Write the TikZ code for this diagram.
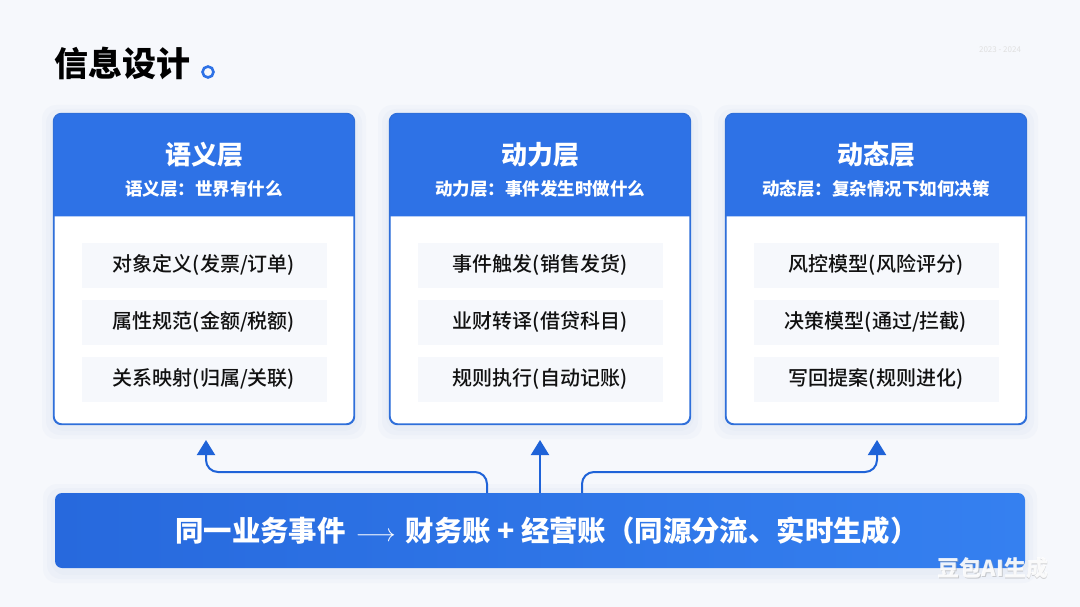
\documentclass[tikz,border=0pt]{standalone}
\usepackage{fontspec}
\setmainfont{Noto Sans CJK SC}
\newfontfamily\medfont{Noto Sans CJK SC Medium}
\usetikzlibrary{arrows.meta,positioning}
\definecolor{bgc}{HTML}{F6F8FC}
\definecolor{hdr}{HTML}{2E72E6}
\definecolor{bord}{HTML}{2F6FDA}
\definecolor{itembg}{HTML}{F6F8FC}
\definecolor{arrc}{HTML}{1F63D8}
\definecolor{barl}{HTML}{2769DD}
\definecolor{barr}{HTML}{3580F0}
\definecolor{txt}{HTML}{111111}
\definecolor{shad}{HTML}{C9D6EA}
\tikzset{
  card/.style={draw=bord,line width=1.2pt,fill=white,rounded corners=8pt,minimum width=300pt,minimum height=310pt},
  softshadow/.style={fill=shad,opacity=0.10,rounded corners=14pt},
  cardtitle/.style={text=white,font=\bfseries\fontsize{26}{30}\selectfont},
  cardsub/.style={text=white,font=\bfseries\fontsize{17.5}{20}\selectfont},
  itembox/.style={fill=itembg,minimum width=245pt,minimum height=45pt,inner sep=0pt,
    font=\medfont\fontsize{20}{24}\selectfont,text=txt},
  conn/.style={draw=arrc,line width=2pt,rounded corners=12pt,-{Triangle[width=18pt,length=15pt]}},
}
\begin{document}
\begin{tikzpicture}[x=1pt,y=-1pt]
\fill[bgc] (0,0) rectangle (1080,607);
\useasboundingbox (0,0) rectangle (1080,607);
% title
\node[anchor=west,inner sep=0pt,font=\bfseries\fontsize{34}{38}\selectfont,text=black] (title) at (54,63) {信息设计};
\node[draw=hdr,line width=2.6pt,circle,minimum size=11pt,inner sep=0pt] (dot) at (208,72) {};
\node[text=black!12,font=\fontsize{8}{10}\selectfont] (years) at (1000,50) {2023 - 2024};
% soft shadows
\foreach \cx in {204,540,876}{
  \foreach \e in {4,8,12}{
    \fill[softshadow] (\cx-150-\e,114-\e+3) rectangle (\cx+150+\e,424+\e+3);
  }
}
\foreach \e in {4,8,12}{
  \fill[softshadow] (55-\e,493-\e+3) rectangle (1025+\e,568+\e+3);
}
% cards
\foreach \n/\cx/\ti/\su/\a/\b/\c in {
  1/204/语义层/语义层：世界有什么/{对象定义(发票/订单)}/{属性规范(金额/税额)}/{关系映射(归属/关联)},
  2/540/动力层/动力层：事件发生时做什么/事件触发(销售发货)/业财转译(借贷科目)/规则执行(自动记账),
  3/876/动态层/动态层：复杂情况下如何决策/风控模型(风险评分)/{决策模型(通过/拦截)}/写回提案(规则进化)}{
  \node[card] (card\n) at (\cx,269) {};
  \fill[hdr] ([yshift=-103pt]card\n.north west) [rounded corners=8pt] -- (card\n.north west) -- (card\n.north east) [sharp corners] -- ([yshift=-103pt]card\n.north east) -- cycle;
  \draw[bord,line width=1.2pt,rounded corners=8pt] (card\n.north west) rectangle (card\n.south east);
  \node[cardtitle] (t\n) at (\cx,155) {\ti};
  \node[cardsub] (s\n) at (\cx,189) {\su};
  \node[itembox] (i\n a) at (\cx,265) {\a};
  \node[itembox] (i\n b) at (\cx,322) {\b};
  \node[itembox] (i\n c) at (\cx,379) {\c};
}
% bottom bar
\node[rounded corners=7pt,left color=barl,right color=barr,minimum width=970pt,minimum height=75pt,inner sep=0pt,
  text=white,font=\bfseries\fontsize{28.4}{32}\selectfont] (bar) at (540,530.5)
  {\hspace*{14pt}同一业务事件\hspace{10pt}$\mathord{\longrightarrow}$\hspace{10pt}财务账 + 经营账（同源分流、实时生成）};
% connectors
\coordinate (bl) at (487,493);
\coordinate (bc) at (540,493);
\coordinate (br) at (582,493);
\coordinate (tl) at (206,440);
\coordinate (tc) at (540,440);
\coordinate (tr) at (877,440);
\coordinate (hl) at (206,472);
\coordinate (hr) at (877,472);
\draw[conn] (bl) |- (hl) -- (tl);
\draw[conn] (bc) -- (tc);
\draw[conn] (br) |- (hr) -- (tr);
% watermark
\node[text=black!35,opacity=0.5,font=\bfseries\fontsize{22}{26}\selectfont] (wm0) at (993.8,568.8) {豆包AI生成};
\node[text=white,opacity=0.9,font=\bfseries\fontsize{22}{26}\selectfont] (wm) at (993,568) {豆包AI生成};
\end{tikzpicture}
\end{document}
